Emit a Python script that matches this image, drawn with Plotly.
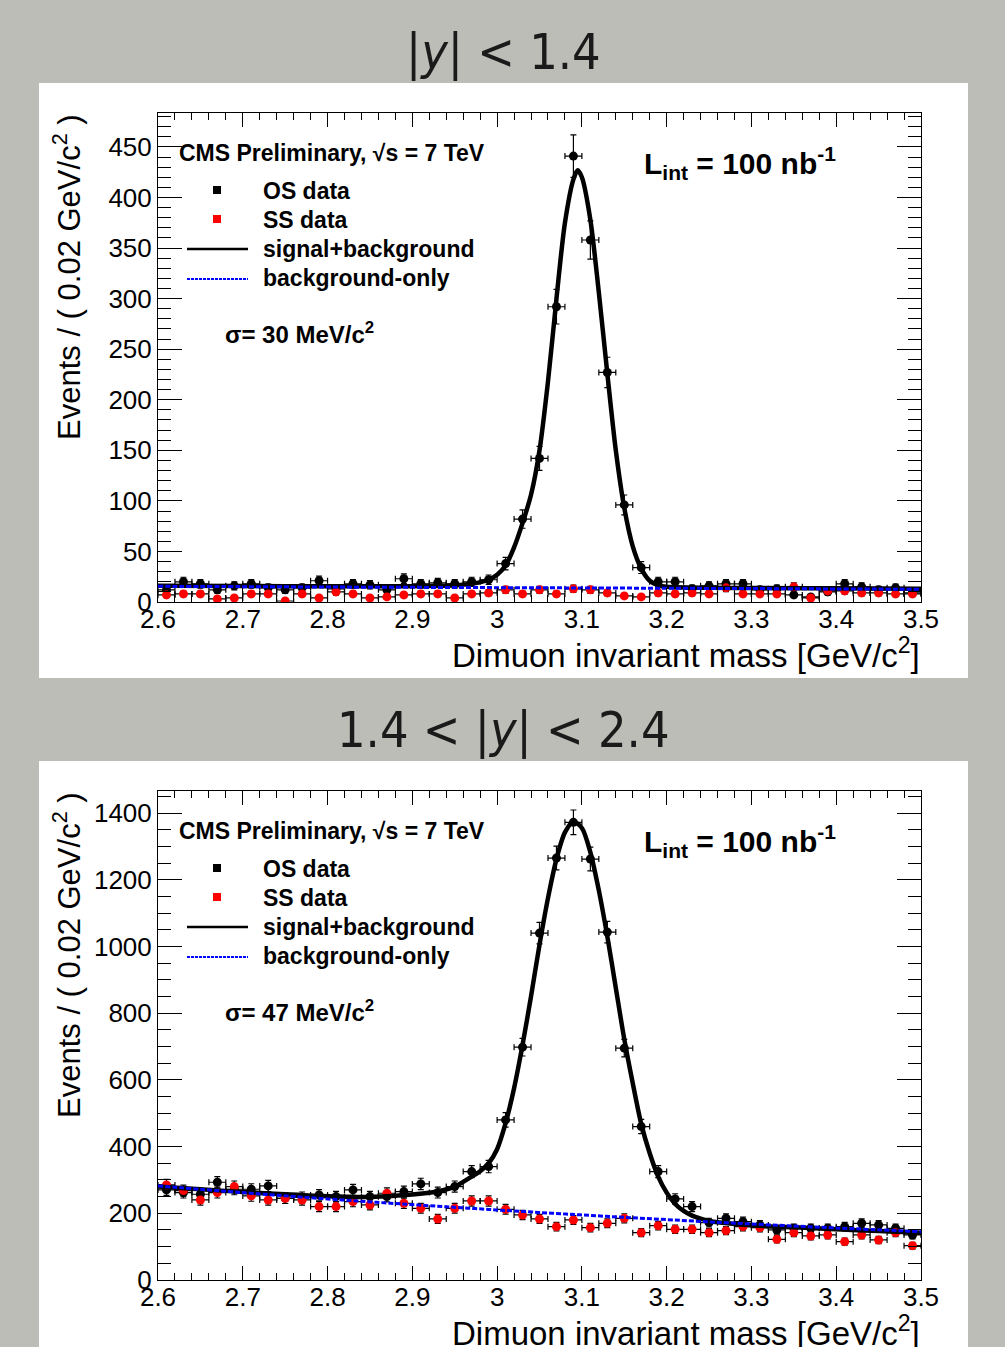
import numpy as np
import plotly.graph_objects as go

W, H = 1005, 1347

# ---------------- data ----------------
bin_centers = [2.61, 2.63, 2.65, 2.67, 2.69, 2.71, 2.73, 2.75, 2.77, 2.79,
               2.81, 2.83, 2.85, 2.87, 2.89, 2.91, 2.93, 2.95, 2.97, 2.99,
               3.01, 3.03, 3.05, 3.07, 3.09, 3.11, 3.13, 3.15, 3.17, 3.19,
               3.21, 3.23, 3.25, 3.27, 3.29, 3.31, 3.33, 3.35, 3.37, 3.39,
               3.41, 3.43, 3.45, 3.47, 3.49]
bin_half_width = 0.01

# |y| < 1.4
os_top = [12, 20, 18, 12, 16, 18, 14, 12, 14, 21,
          13, 18, 17, 12, 23, 18, 19, 18, 20, 22,
          38, 82, 142, 292, 441, 358, 227, 96, 34, 20,
          20, 13, 16, 18, 18, 12, 13, 7, 5, 10,
          18, 15, 12, 14, 9]
ss_top = [7, 8, 8, 3, 4, 8, 8, 1, 8, 4,
          10, 8, 4, 5, 7, 8, 8, 4, 8, 9,
          12, 8, 12, 8, 13, 12, 9, 6, 5, 9,
          8, 9, 8, 14, 8, 8, 8, 15, 4, 11,
          11, 9, 9, 8, 8]
fit_x_top = [2.60, 2.70, 2.80, 2.90, 2.95, 2.97, 2.99, 3.00, 3.01, 3.02,
             3.03, 3.04, 3.05, 3.06, 3.07, 3.08, 3.09, 3.095, 3.10, 3.11,
             3.12, 3.13, 3.14, 3.15, 3.16, 3.17, 3.18, 3.19, 3.20, 3.25,
             3.30, 3.40, 3.50]
fit_y_top = [16.0, 15.8, 15.6, 15.6, 16.5, 18, 22, 27, 36, 54,
             78, 106, 150, 218, 300, 375, 418, 427, 420, 378,
             306, 226, 150, 93, 55, 33, 21, 16.5, 15, 14,
             13.8, 13.5, 13.2]
bkg_x_top = [2.6, 2.7, 2.8, 2.9, 3.0, 3.1, 3.2, 3.3, 3.4, 3.5]
bkg_y_top = [15.5, 15.2, 14.8, 14.5, 14.2, 13.9, 13.6, 13.3, 12.9, 12.6]

# 1.4 < |y| < 2.4
os_bot = [270, 262, 257, 293, 272, 272, 282, 245, 248, 255,
          250, 270, 250, 250, 265, 288, 262, 280, 325, 340,
          480, 698, 1040, 1265, 1372, 1262, 1043, 695, 460, 325,
          243, 220, 172, 185, 175, 165, 150, 155, 155, 155,
          160, 170, 165, 155, 135]
ss_bot = [285, 268, 240, 262, 280, 252, 240, 245, 240, 220,
          220, 235, 225, 260, 230, 215, 183, 215, 237, 237,
          212, 195, 183, 160, 180, 157, 170, 185, 142, 163,
          152, 152, 142, 148, 160, 157, 122, 142, 132, 135,
          115, 135, 120, 142, 103]
fit_x_bot = [2.60, 2.65, 2.70, 2.75, 2.80, 2.85, 2.90, 2.93, 2.95, 2.97,
             2.98, 2.99, 3.00, 3.01, 3.02, 3.03, 3.04, 3.05, 3.06, 3.07,
             3.08, 3.09, 3.10, 3.11, 3.12, 3.13, 3.14, 3.15, 3.16, 3.17,
             3.18, 3.19, 3.20, 3.21, 3.22, 3.23, 3.24, 3.25, 3.30, 3.35,
             3.40, 3.45, 3.50]
fit_y_bot = [280, 272, 264, 257, 251, 249, 256, 266, 280, 310,
             326, 350, 392, 470, 575, 705, 850, 1005, 1145, 1262,
             1342, 1374, 1355, 1282, 1168, 1030, 876, 722, 590, 468,
             380, 310, 262, 228, 207, 193, 184, 177, 164, 158,
             152, 147, 142]
bkg_x_bot = [2.6, 2.7, 2.8, 2.9, 3.0, 3.1, 3.2, 3.3, 3.4, 3.5]
bkg_y_bot = [282, 262, 243, 226, 210, 195, 181, 168, 156, 145]

x_tick_vals = [2.6, 2.7, 2.8, 2.9, 3.0, 3.1, 3.2, 3.3, 3.4, 3.5]
x_tick_text = ["2.6", "2.7", "2.8", "2.9", "3", "3.1", "3.2", "3.3", "3.4", "3.5"]

panel_titles = ["|<i>y</i>| &lt; 1.4", "1.4 &lt; |<i>y</i>| &lt; 2.4"]
sigma_labels = ["σ= 30 MeV/c<sup>2</sup>", "σ= 47 MeV/c<sup>2</sup>"]

# ---------------- style ----------------
BG = "#BBBDB6"
FONT = "Liberation Sans, Arial, Helvetica, sans-serif"
TITLE_FONT = "DejaVu Sans Condensed, Liberation Sans Narrow, DejaVu Sans, sans-serif"


def px_x(p):
    return p / W


def px_y(p):
    return 1 - p / H


fig = go.Figure()

panels = [
    dict(xa="x", ya="y", os=os_top, ss=ss_top, fx=fit_x_top, fy=fit_y_top,
         bx=bkg_x_top, by=bkg_y_top, off=0),
    dict(xa="x2", ya="y2", os=os_bot, ss=ss_bot, fx=fit_x_bot, fy=fit_y_bot,
         bx=bkg_x_bot, by=bkg_y_bot, off=678),
]

for p in panels:
    os_err = np.sqrt(np.array(p["os"], dtype=float))
    ss_err = np.sqrt(np.array(p["ss"], dtype=float))
    xerr = [bin_half_width] * len(bin_centers)
    fig.add_trace(go.Scatter(
        x=bin_centers, y=p["os"], mode="markers", xaxis=p["xa"], yaxis=p["ya"],
        marker=dict(color="black", size=9, symbol="circle"),
        error_y=dict(type="data", array=os_err, color="black", thickness=1.2, width=3),
        error_x=dict(type="data", array=xerr, color="black", thickness=1.2, width=3),
        showlegend=False, hoverinfo="skip"))
    fig.add_trace(go.Scatter(
        x=bin_centers, y=p["ss"], mode="markers", xaxis=p["xa"], yaxis=p["ya"],
        marker=dict(color="#FF0000", size=9, symbol="circle"),
        error_y=dict(type="data", array=ss_err, color="black", thickness=1.2, width=3),
        error_x=dict(type="data", array=xerr, color="black", thickness=1.2, width=3),
        showlegend=False, hoverinfo="skip"))
    fig.add_trace(go.Scatter(
        x=p["fx"], y=p["fy"], mode="lines", xaxis=p["xa"], yaxis=p["ya"],
        line=dict(color="black", width=4.5, shape="spline", smoothing=0.8),
        showlegend=False, hoverinfo="skip"))
    fig.add_trace(go.Scatter(
        x=p["bx"], y=p["by"], mode="lines", xaxis=p["xa"], yaxis=p["ya"],
        line=dict(color="#0000FF", width=3, dash="5px,2px", shape="spline"),
        showlegend=False, hoverinfo="skip"))


def xaxis_cfg(anchor):
    return dict(
        domain=[px_x(158), px_x(921)], range=[2.6, 3.5], anchor=anchor,
        tickvals=x_tick_vals, ticktext=x_tick_text, automargin=False,
        ticks="inside", ticklen=14, tickwidth=1, tickcolor="black",
        ticklabelstandoff=-6,
        showline=True, linecolor="black", linewidth=1, mirror="allticks",
        showgrid=False, zeroline=False,
        tickfont=dict(family=FONT, size=26, color="black"),
        minor=dict(dtick=0.02, tick0=2.6, ticks="inside", ticklen=7,
                   tickcolor="black", tickwidth=1, showgrid=False),
    )


def yaxis_cfg(anchor, top, bottom, ymax, dtick, minor):
    return dict(
        domain=[px_y(bottom), px_y(top)], range=[0, ymax], anchor=anchor,
        dtick=dtick, tick0=0, automargin=False,
        ticks="inside", ticklen=24, tickwidth=1, tickcolor="black",
        showline=True, linecolor="black", linewidth=1, mirror="allticks",
        showgrid=False, zeroline=False,
        tickfont=dict(family=FONT, size=26, color="black"),
        minor=dict(dtick=minor, tick0=0, ticks="inside", ticklen=13,
                   tickcolor="black", tickwidth=1, showgrid=False),
    )


shapes = []
annotations = []

for i, p in enumerate(panels):
    off = p["off"]
    # white canvas
    shapes.append(dict(type="rect", xref="paper", yref="paper", layer="below",
                       x0=px_x(39), x1=px_x(968), y0=px_y(678 + off if i == 0 else H),
                       y1=px_y(83 + off), fillcolor="white", line=dict(width=0)))
    # panel title
    annotations.append(dict(text=panel_titles[i], x=px_x(504), y=px_y(52 + off),
                            xref="paper", yref="paper", showarrow=False,
                            xanchor="center", yanchor="middle",
                            font=dict(family=TITLE_FONT, size=50, color="#1a1a1a")))
    # axis titles
    annotations.append(dict(text="Dimuon invariant mass [GeV/c<sup>2</sup>]",
                            x=px_x(922), y=px_y(653 + off), xref="paper", yref="paper",
                            showarrow=False, xanchor="right", yanchor="middle",
                            font=dict(family=FONT, size=33, color="black")))
    annotations.append(dict(text="Events / ( 0.02 GeV/c<sup>2</sup> )",
                            x=px_x(67), y=px_y(277 + off), xref="paper", yref="paper",
                            showarrow=False, xanchor="center", yanchor="middle",
                            textangle=-90,
                            font=dict(family=FONT, size=31, color="black")))
    # in-plot labels
    annotations.append(dict(text="<b>CMS Preliminary, √s = 7 TeV</b>",
                            x=px_x(177), y=px_y(153 + off), xref="paper", yref="paper",
                            showarrow=False, xanchor="left", yanchor="middle",
                            font=dict(family=FONT, size=23, color="black")))
    annotations.append(dict(text="<b>L<sub>int</sub> = 100 nb<sup>-1</sup></b>",
                            x=px_x(642), y=px_y(163 + off), xref="paper", yref="paper",
                            showarrow=False, xanchor="left", yanchor="middle",
                            font=dict(family=FONT, size=30, color="black")))
    annotations.append(dict(text="<b>" + sigma_labels[i] + "</b>",
                            x=px_x(223), y=px_y(333 + off), xref="paper", yref="paper",
                            showarrow=False, xanchor="left", yanchor="middle",
                            font=dict(family=FONT, size=24, color="black")))
    legend_rows = [("OS data", 191), ("SS data", 220), ("signal+background", 249),
                   ("background-only", 278)]
    for txt, yy in legend_rows:
        annotations.append(dict(text="<b>" + txt + "</b>", x=px_x(261), y=px_y(yy + off),
                                xref="paper", yref="paper", showarrow=False,
                                xanchor="left", yanchor="middle",
                                font=dict(family=FONT, size=23, color="black")))
    # legend symbols
    for col, yy in [("black", 190), ("#FF0000", 219)]:
        shapes.append(dict(type="rect", xref="paper", yref="paper",
                           x0=px_x(213), x1=px_x(221), y0=px_y(yy + off + 4),
                           y1=px_y(yy + off - 4), fillcolor=col, line=dict(width=0)))
    shapes.append(dict(type="line", xref="paper", yref="paper",
                       x0=px_x(187), x1=px_x(248), y0=px_y(249 + off), y1=px_y(249 + off),
                       line=dict(color="black", width=2.5)))
    shapes.append(dict(type="line", xref="paper", yref="paper",
                       x0=px_x(187), x1=px_x(248), y0=px_y(279 + off), y1=px_y(279 + off),
                       line=dict(color="#0000FF", width=2, dash="3px,1px")))

fig.update_layout(
    template="none",
    width=W, height=H, autosize=False,
    margin=dict(l=0, r=0, t=0, b=0, pad=0),
    paper_bgcolor=BG, plot_bgcolor="white",
    showlegend=False,
    xaxis=xaxis_cfg("y"),
    yaxis=yaxis_cfg("x", 113, 602, 483.6, 50, 10),
    xaxis2=xaxis_cfg("y2"),
    yaxis2=yaxis_cfg("x2", 791, 1280, 1466, 200, 50),
    shapes=shapes,
    annotations=annotations,
)

fig.write_html("out.html", config={"displayModeBar": False},
               post_script="document.body.style.margin='0';document.body.style.overflow='hidden';")
